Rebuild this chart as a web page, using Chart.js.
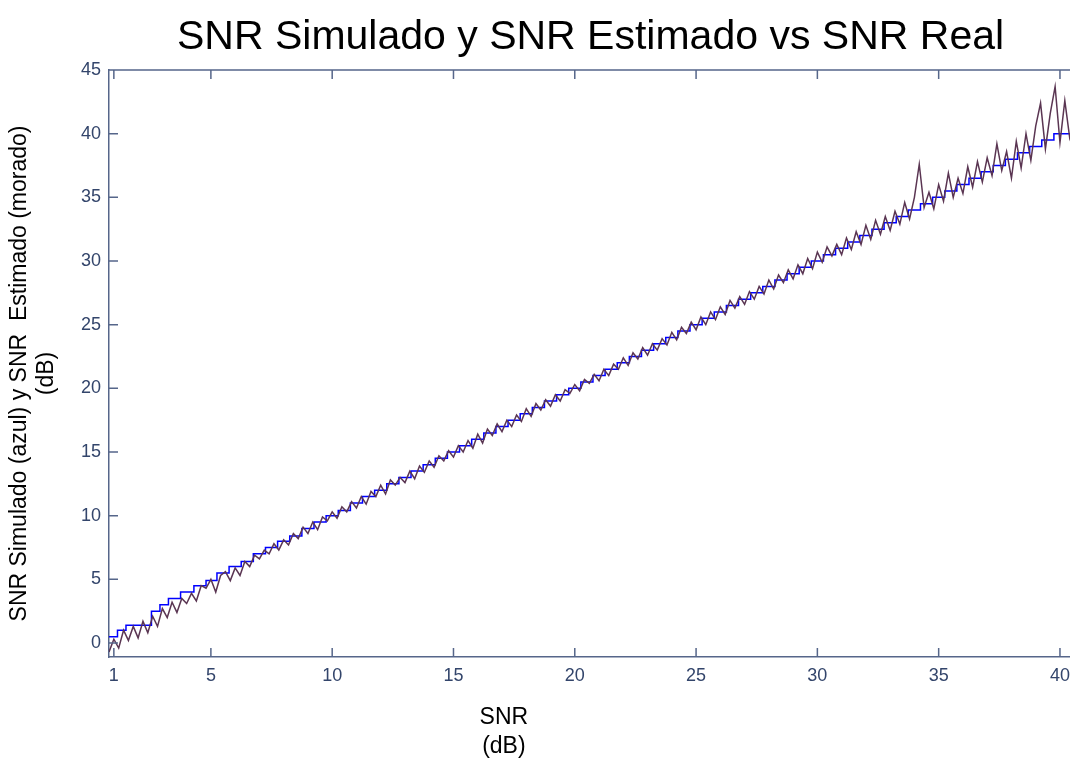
<!DOCTYPE html>
<html>
<head>
<meta charset="utf-8">
<script src="https://cdn.jsdelivr.net/npm/chart.js@4/dist/chart.umd.min.js"></script>
<style>
  html, body { margin: 0; padding: 0; background: #fff; overflow: hidden; }
  #wrap { width: 1078px; height: 758px; position: relative; }
</style>
</head>
<body>
<div id="wrap"><canvas id="chart"></canvas></div>
<script>
// SNR real (x) for the estimated curve
const snrReal = [
  0.8, 1.0, 1.2, 1.4, 1.6, 1.8, 2.0, 2.2, 2.4, 2.6,
  2.8, 3.0, 3.2, 3.4, 3.6, 3.8, 4.0, 4.2, 4.4, 4.6,
  4.8, 5.0, 5.2, 5.4, 5.6, 5.8, 6.0, 6.2, 6.4, 6.6,
  6.8, 7.0, 7.2, 7.4, 7.6, 7.8, 8.0, 8.2, 8.4, 8.6,
  8.8, 9.0, 9.2, 9.4, 9.6, 9.8, 10.0, 10.2, 10.4, 10.6,
  10.8, 11.0, 11.2, 11.4, 11.6, 11.8, 12.0, 12.2, 12.4, 12.6,
  12.8, 13.0, 13.2, 13.4, 13.6, 13.8, 14.0, 14.2, 14.4, 14.6,
  14.8, 15.0, 15.2, 15.4, 15.6, 15.8, 16.0, 16.2, 16.4, 16.6,
  16.8, 17.0, 17.2, 17.4, 17.6, 17.8, 18.0, 18.2, 18.4, 18.6,
  18.8, 19.0, 19.2, 19.4, 19.6, 19.8, 20.0, 20.2, 20.4, 20.6,
  20.8, 21.0, 21.2, 21.4, 21.6, 21.8, 22.0, 22.2, 22.4, 22.6,
  22.8, 23.0, 23.2, 23.4, 23.6, 23.8, 24.0, 24.2, 24.4, 24.6,
  24.8, 25.0, 25.2, 25.4, 25.6, 25.8, 26.0, 26.2, 26.4, 26.6,
  26.8, 27.0, 27.2, 27.4, 27.6, 27.8, 28.0, 28.2, 28.4, 28.6,
  28.8, 29.0, 29.2, 29.4, 29.6, 29.8, 30.0, 30.2, 30.4, 30.6,
  30.8, 31.0, 31.2, 31.4, 31.6, 31.8, 32.0, 32.2, 32.4, 32.6,
  32.8, 33.0, 33.2, 33.4, 33.6, 33.8, 34.0, 34.2, 34.4, 34.6,
  34.8, 35.0, 35.2, 35.4, 35.6, 35.8, 36.0, 36.2, 36.4, 36.6,
  36.8, 37.0, 37.2, 37.4, 37.6, 37.8, 38.0, 38.2, 38.4, 38.6,
  38.8, 39.0, 39.2, 39.4, 39.6, 39.8, 40.0, 40.2, 40.4, 40.6
];
// SNR estimado (morado)
const snrEstimado = [
  -0.7, 0.3, -0.4, 1.0, 0.2, 1.3, 0.4, 1.7, 0.8, 2.1,
  1.3, 2.7, 2.0, 3.2, 2.4, 3.5, 3.1, 3.9, 3.3, 4.5,
  4.3, 5.0, 4.0, 5.3, 5.6, 4.9, 5.9, 5.3, 6.4, 6.0,
  6.9, 6.6, 7.3, 7.0, 7.8, 7.3, 8.1, 7.7, 8.6, 8.2,
  9.1, 8.6, 9.5, 8.9, 9.9, 9.6, 10.3, 9.8, 10.7, 10.3,
  11.1, 10.6, 11.5, 10.9, 11.9, 11.5, 12.4, 11.7, 12.8, 12.4,
  13.0, 12.6, 13.5, 12.9, 13.9, 13.4, 14.3, 13.8, 14.7, 14.3,
  15.1, 14.6, 15.5, 15.0, 15.9, 15.3, 16.4, 15.7, 16.8, 16.3,
  17.2, 16.6, 17.5, 17.0, 17.9, 17.4, 18.4, 17.8, 18.8, 18.3,
  19.1, 18.6, 19.5, 19.0, 19.9, 19.6, 20.3, 19.8, 20.7, 20.4,
  21.1, 20.6, 21.5, 21.0, 21.9, 21.5, 22.4, 21.8, 22.8, 22.3,
  23.2, 22.6, 23.5, 23.0, 23.9, 23.4, 24.4, 23.8, 24.8, 24.3,
  25.2, 24.6, 25.6, 25.0, 26.0, 25.4, 26.4, 25.8, 26.9, 26.3,
  27.2, 26.6, 27.6, 27.0, 28.0, 27.4, 28.5, 27.8, 28.9, 28.3,
  29.3, 28.6, 29.7, 29.0, 30.2, 29.4, 30.7, 29.9, 31.1, 30.4,
  31.3, 30.5, 31.8, 30.9, 32.3, 31.3, 32.8, 31.7, 33.2, 32.1,
  33.5, 32.4, 33.9, 32.9, 34.6, 33.3, 35.0, 37.6, 34.2, 35.4,
  34.1, 36.0, 34.7, 36.9, 35.0, 36.5, 35.3, 37.4, 35.8, 37.8,
  36.2, 38.1, 36.7, 39.2, 37.1, 38.6, 36.5, 39.4, 37.3, 40.0,
  37.9, 40.6, 42.4, 38.8, 41.6, 43.7, 39.3, 42.6, 39.7, 41.2
];
// SNR simulado (azul), staircase: where each step starts and its level
const stepSnr = [
  0.8, 1.15, 1.5, 2.55, 2.9, 3.25, 3.75, 4.3, 4.8, 5.25,
  5.75, 6.25, 6.75, 7.25, 7.75, 8.25, 8.75, 9.25, 9.75, 10.25,
  10.75, 11.25, 11.75, 12.25, 12.75, 13.25, 13.75, 14.25, 14.75, 15.25,
  15.75, 16.25, 16.75, 17.25, 17.75, 18.25, 18.75, 19.25, 19.75, 20.25,
  20.75, 21.25, 21.75, 22.25, 22.75, 23.25, 23.75, 24.25, 24.75, 25.25,
  25.75, 26.25, 26.75, 27.25, 27.75, 28.25, 28.75, 29.25, 29.75, 30.25,
  30.75, 31.25, 31.75, 32.25, 32.75, 33.25, 33.75, 34.25, 34.75, 35.25,
  35.75, 36.25, 36.75, 37.25, 37.75, 38.25, 38.75, 39.25, 39.75, 40.6
];
const stepSimulado = [
  0.5, 1.0, 1.4, 2.5, 3.0, 3.5, 4.0, 4.5, 4.9, 5.5,
  6.0, 6.4, 7.0, 7.5, 8.0, 8.4, 9.0, 9.5, 10.0, 10.4,
  11.0, 11.5, 12.0, 12.5, 13.0, 13.5, 14.0, 14.5, 15.0, 15.5,
  16.0, 16.5, 17.0, 17.5, 18.0, 18.5, 19.0, 19.5, 20.0, 20.5,
  21.0, 21.5, 22.0, 22.5, 23.0, 23.5, 24.0, 24.5, 25.0, 25.5,
  26.0, 26.5, 27.0, 27.5, 28.0, 28.5, 29.0, 29.5, 30.0, 30.5,
  31.0, 31.5, 32.0, 32.5, 33.0, 33.5, 34.0, 34.5, 35.0, 35.5,
  36.0, 36.5, 37.0, 37.5, 38.0, 38.5, 39.0, 39.5, 40.0, 40.0
];
const xTicks = [1, 5, 10, 15, 20, 25, 30, 35, 40];
const yTicks = [0, 5, 10, 15, 20, 25, 30, 35, 40, 45];

const titleText = 'SNR Simulado y SNR Estimado vs SNR Real';
const yLabel = ['SNR Simulado (azul) y SNR  Estimado (morado)', '(dB)'];
const xLabel = ['SNR', '(dB)'];

const axisColor = '#56668a';
const tickColor = '#33456b';
const fontFam = '"Liberation Sans", Arial, sans-serif';

// matlab-like box: top line, inward ticks, titles
const matlabAxes = {
  id: 'matlabAxes',
  afterDraw(chart) {
    const ctx = chart.ctx;
    const a = chart.chartArea;
    const xs = chart.scales.x, ys = chart.scales.y;
    ctx.save();
    ctx.strokeStyle = axisColor;
    ctx.lineWidth = 1.5;
    ctx.beginPath();
    ctx.moveTo(a.left, a.top);
    ctx.lineTo(a.right + 5, a.top);
    xTicks.forEach(v => {
      const px = xs.getPixelForValue(v);
      ctx.moveTo(px, a.bottom); ctx.lineTo(px, a.bottom - 9);
      ctx.moveTo(px, a.top); ctx.lineTo(px, a.top + 9);
    });
    yTicks.forEach(v => {
      const py = ys.getPixelForValue(v);
      ctx.moveTo(a.left, py); ctx.lineTo(a.left + 9, py);
    });
    ctx.stroke();

    ctx.fillStyle = '#000';
    ctx.textAlign = 'center';
    ctx.textBaseline = 'middle';
    ctx.font = '41px ' + fontFam;
    ctx.fillText(titleText, (a.left + a.right) / 2, 38);

    ctx.font = '23px ' + fontFam;
    const xc = a.left + (a.right - a.left) * 0.41;
    ctx.fillText(xLabel[0], xc, a.bottom + 61);
    ctx.fillText(xLabel[1], xc, a.bottom + 90);

    ctx.translate(20, (a.top + a.bottom) / 2 + 10);
    ctx.rotate(-Math.PI / 2);
    ctx.fillText(yLabel[0], 0, 0);
    ctx.fillText(yLabel[1], 0, 27);
    ctx.restore();
  }
};

new Chart(document.getElementById('chart'), {
  type: 'line',
  data: {
    datasets: [
      {
        label: 'SNR Estimado',
        data: snrReal.map((x, i) => ({ x: x, y: snrEstimado[i] })),
        borderColor: '#5a3552',
        borderWidth: 1.5,
        pointRadius: 0,
        tension: 0
      },
      {
        label: 'SNR Simulado',
        data: stepSnr.map((x, i) => ({ x: x, y: stepSimulado[i] })),
        borderColor: '#0000ff',
        borderWidth: 1.5,
        pointRadius: 0,
        stepped: true
      }
    ]
  },
  options: {
    responsive: true,
    maintainAspectRatio: false,
    animation: false,
    layout: { padding: { top: 70, right: 2, left: 0, bottom: 0 } },
    plugins: {
      legend: { display: false },
      tooltip: { enabled: false },
      title: { display: false }
    },
    scales: {
      x: {
        type: 'linear',
        min: 0.8,
        max: 40.5,
        afterBuildTicks: s => { s.ticks = xTicks.map(v => ({ value: v })); },
        afterFit: s => { s.height = 101; },
        grid: { display: false, drawTicks: false },
        border: { display: true, color: axisColor, width: 1.5 },
        ticks: {
          autoSkip: false, maxRotation: 0, padding: 8,
          color: tickColor,
          font: { family: fontFam, size: 18 }
        }
      },
      y: {
        type: 'linear',
        min: -1.1,
        max: 45,
        afterBuildTicks: s => { s.ticks = yTicks.map(v => ({ value: v })); },
        afterFit: s => { s.width = 109; },
        grid: { display: false, drawTicks: false },
        border: { display: true, color: axisColor, width: 1.5 },
        ticks: {
          autoSkip: false, padding: 8,
          color: tickColor,
          font: { family: fontFam, size: 18 }
        }
      }
    }
  },
  plugins: [matlabAxes]
});
</script>
</body>
</html>
